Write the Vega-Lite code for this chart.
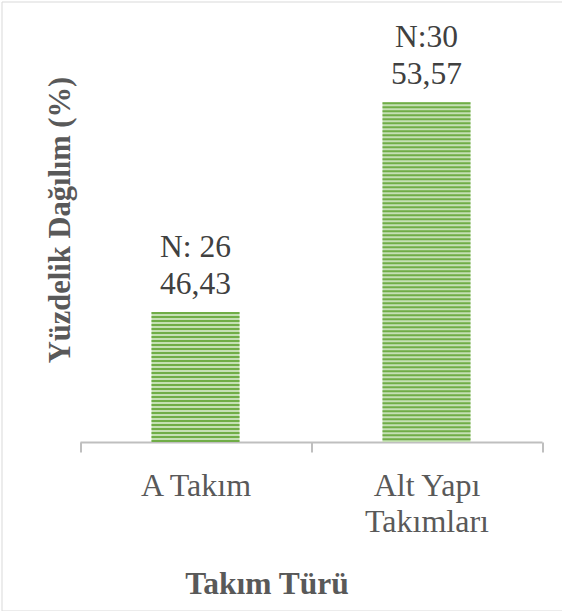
{
  "$schema": "https://vega.github.io/schema/vega-lite/v6.json",
  "width": 562,
  "height": 609,
  "autosize": {"type": "none"},
  "padding": {"left": 1.5, "top": 1.5, "right": 0, "bottom": 0},
  "background": "white",
  "config": {
    "view": {"stroke": "#d9d9d9", "strokeWidth": 1},
    "font": "Liberation Serif"
  },
  "data": {
    "values": [
      {"team": "A Takım", "pct": 46.43, "label": "N: 26\n46,43"},
      {"team": "Alt Yapı Takımları", "pct": 53.57, "label": "N:30\n53,57"}
    ]
  },
  "encoding": {
    "x": {
      "field": "team",
      "type": "nominal",
      "sort": null,
      "scale": {"range": [78.5, 540.5], "paddingInner": 0, "paddingOuter": 0},
      "axis": {
        "title": "Takım Türü",
        "titleFont": "Liberation Serif",
        "titleFontSize": 31.5,
        "titleFontWeight": "bold",
        "titleColor": "#595959",
        "titleX": 265,
        "titleY": 151,
        "titleAlign": "center",
        "titleBaseline": "alphabetic",
        "labelAngle": 0,
        "labelFont": "Liberation Serif",
        "labelFontSize": 32,
        "labelColor": "#595959",
        "labelPadding": 18,
        "labelBaseline": "top",
        "labelLineHeight": 36.7,
        "labelLimit": 0,
        "labelExpr": "datum.value == 'Alt Yapı Takımları' ? ['Alt Yapı', 'Takımları'] : datum.value",
        "domainColor": "#bfbfbf",
        "domainWidth": 2,
        "tickColor": "#bfbfbf",
        "tickWidth": 2,
        "tickSize": 10,
        "tickBand": "extent",
        "offset": -168.5,
        "grid": false
      }
    },
    "y": {
      "field": "pct",
      "type": "quantitative",
      "scale": {"domain": [42, 56], "range": [440.5, 29.5], "zero": false},
      "axis": {
        "title": "Yüzdelik Dağılım (%)",
        "titleFont": "Liberation Serif",
        "titleFontSize": 30.5,
        "titleFontWeight": "bold",
        "titleColor": "#595959",
        "titleAngle": -90,
        "titleX": 68,
        "titleY": 218,
        "titleAlign": "center",
        "titleBaseline": "alphabetic",
        "domain": false,
        "ticks": false,
        "labels": false,
        "grid": false
      }
    }
  },
  "layer": [
    {
      "mark": {"type": "bar", "width": 88, "color": "#c5e0b4"},
      "encoding": {"y2": {"datum": 42}}
    },
    {
      "mark": {"type": "rule", "strokeWidth": 88, "strokeDash": [2, 2], "color": "#70ad47"},
      "encoding": {"y2": {"datum": 42}}
    },
    {
      "mark": {
        "type": "text",
        "font": "Liberation Serif",
        "fontSize": 31.5,
        "color": "#404040",
        "baseline": "alphabetic",
        "dy": -55,
        "lineBreak": "\n",
        "lineHeight": 36.7
      },
      "encoding": {"text": {"field": "label"}}
    }
  ]
}
